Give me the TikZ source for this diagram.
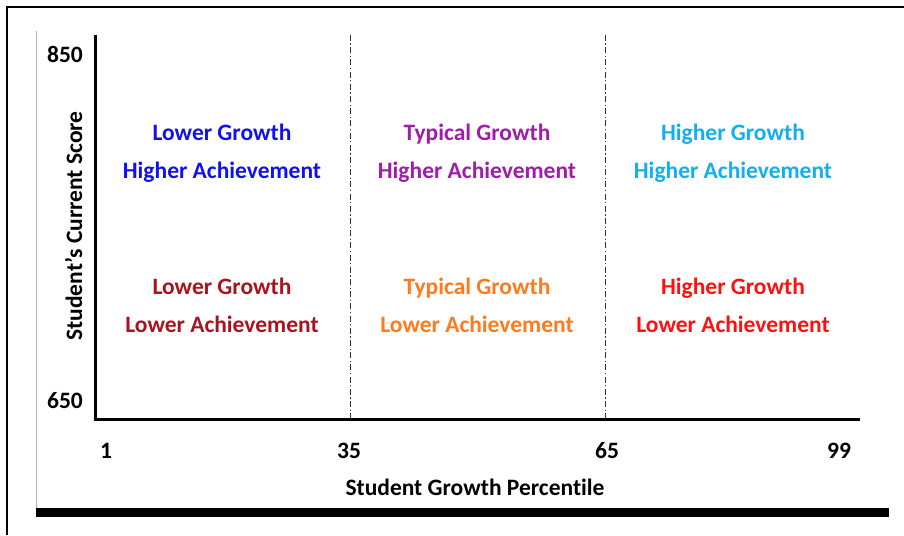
\documentclass[tikz,border=0pt]{standalone}
\usepackage{fontspec}
\setmainfont[Ligatures=NoCommon]{Carlito}
\definecolor{lowhigh}{HTML}{1010F0}
\definecolor{typhigh}{HTML}{A01CAA}
\definecolor{highhigh}{HTML}{10B0F0}
\definecolor{lowlow}{HTML}{A8141E}
\definecolor{typlow}{HTML}{FF7A1C}
\definecolor{highlow}{HTML}{FF1010}
\begin{document}
\begin{tikzpicture}[x=1pt, y=-1pt]

    \tikzset{quad/.style={%
      inner sep=0pt,%
      anchor=base,%
      font=\fontsize{23.5}{27}\selectfont\bfseries}%
    };

    \tikzset{tick/.style={quad}};
    \tikzset{axis/.style={line width=3pt}};
    \tikzset{split/.style={line width=0.8pt, dash pattern=on 6pt off 2.5pt on 1.2pt off 2.5pt, black!80}};

    \useasboundingbox (0, 0) rectangle (904, 535);

    %%%%%%%%%%%%%%%
    %   frame     %
    %%%%%%%%%%%%%%%
    \path (7, 535) coordinate (fbl) (7, 7) coordinate (ftl) (904, 7) coordinate (ftr);
    \path (36, 31) coordinate (gtop) (36, 508) coordinate (gbot);
    \path (36, 512.5) coordinate (bl) (889, 512.5) coordinate (br);
    \draw [line width=2pt] (fbl) -- (ftl) -- (ftr);
    \draw [line width=1pt, black!30] (gtop) -- (gbot);
    \draw [line width=9pt] (bl) -- (br);

    %%%%%%%%%%%%%%%
    %    axes     %
    %%%%%%%%%%%%%%%
    \path (95, 35) coordinate (ytop) (95, 419) coordinate (orig) (860, 419) coordinate (xend);
    \path (350, 35) coordinate (s1top) (350, 419) coordinate (s1bot);
    \path (605, 35) coordinate (s2top) (605, 419) coordinate (s2bot);
    \draw [split] (s1top) -- (s1bot);
    \draw [split] (s2top) -- (s2bot);
    \draw [axis] (ytop) -- (orig) -- (xend);

    \path (65, 63) node [tick] (t850) {850};
    \path (65, 408) node [tick] (t650) {650};
    \path (106, 458) node [tick] (t1) {1};
    \path (349, 458) node [tick] (t35) {35};
    \path (607, 458) node [tick] (t65) {65};
    \path (839, 458) node [tick] (t99) {99};
    \path (475, 495) node [tick] (xlab) {Student Growth Percentile};
    \path (82, 226) node [tick, anchor=base, rotate=90] (ylab) {Student’s Current Score};

    %%%%%%%%%%%%%%%
    %  quadrants  %
    %%%%%%%%%%%%%%%
    \path (222, 140) node [quad, lowhigh] (lgr) {Lower Growth};
    \path (222, 178) node [quad, lowhigh] (lha) {Higher Achievement};
    \path (477, 140) node [quad, typhigh] (tgr) {Typical Growth};
    \path (477, 178) node [quad, typhigh] (tha) {Higher Achievement};
    \path (733, 140) node [quad, highhigh] (hgr) {Higher Growth};
    \path (733, 178) node [quad, highhigh] (hha) {Higher Achievement};

    \path (222, 294) node [quad, lowlow] (lgr2) {Lower Growth};
    \path (222, 332) node [quad, lowlow] (lla) {Lower Achievement};
    \path (477, 294) node [quad, typlow] (tgr2) {Typical Growth};
    \path (477, 332) node [quad, typlow] (tla) {Lower Achievement};
    \path (733, 294) node [quad, highlow] (hgr2) {Higher Growth};
    \path (733, 332) node [quad, highlow] (hla) {Lower Achievement};

  \end{tikzpicture}
\end{document}
